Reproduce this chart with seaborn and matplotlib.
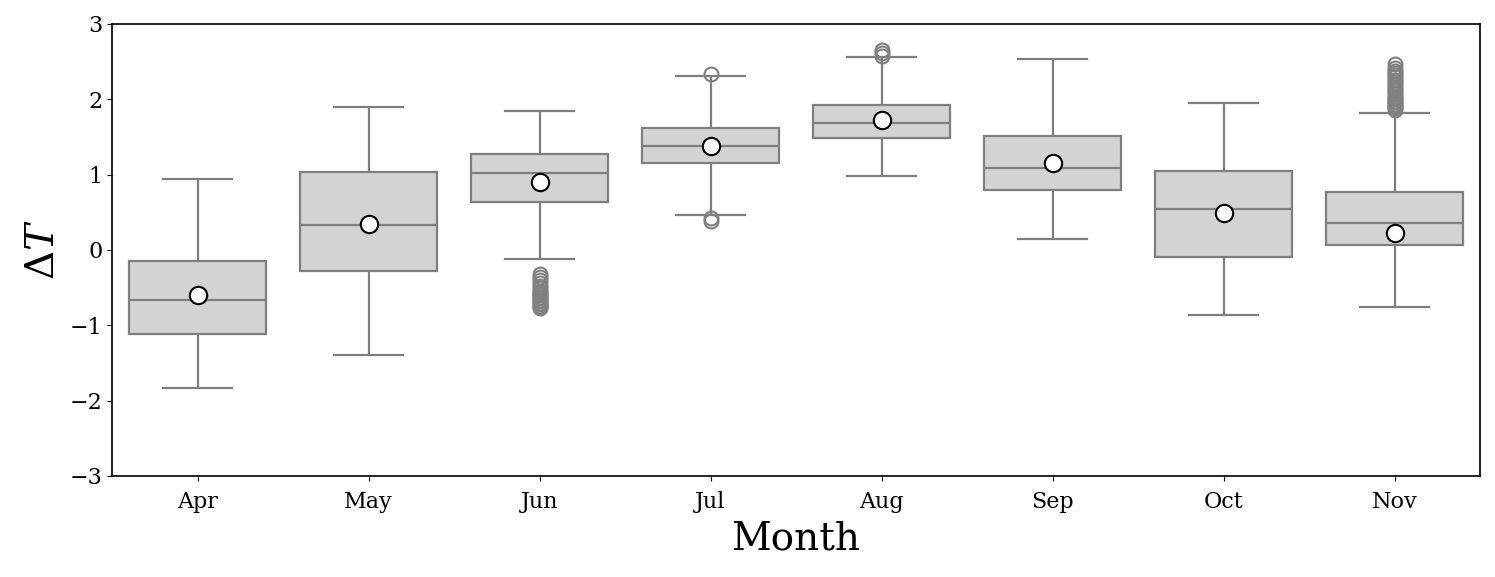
import numpy as np
import pandas as pd
import matplotlib
matplotlib.use("Agg")
import matplotlib.pyplot as plt
import seaborn as sns

# ---- values ----
months = ["Apr", "May", "Jun", "Jul", "Aug", "Sep", "Oct", "Nov"]
whis_low = [-1.83, -1.40, -0.12, 0.46, 0.98, 0.14, -0.86, -0.76]
q1 = [-1.11, -0.28, 0.64, 1.15, 1.49, 0.79, -0.09, 0.06]
median = [-0.67, 0.33, 1.02, 1.38, 1.69, 1.09, 0.55, 0.36]
q3 = [-0.14, 1.04, 1.28, 1.62, 1.92, 1.51, 1.05, 0.77]
whis_high = [0.94, 1.90, 1.85, 2.31, 2.56, 2.53, 1.95, 1.82]
means = [-0.60, 0.34, 0.90, 1.38, 1.73, 1.16, 0.49, 0.23]
fliers = {
    "Apr": [],
    "May": [],
    "Jun": [-0.32, -0.36, -0.40, -0.44, -0.48, -0.51, -0.54, -0.56, -0.58,
            -0.60, -0.62, -0.64, -0.66, -0.68, -0.70, -0.72, -0.74, -0.76, -0.77],
    "Jul": [2.34, 0.42, 0.39],
    "Aug": [2.58, 2.62, 2.65],
    "Sep": [],
    "Oct": [],
    "Nov": [2.47, 2.42, 2.38, 2.35, 2.32, 2.29, 2.26, 2.23, 2.20, 2.17, 2.14,
            2.11, 2.08, 2.05, 2.02, 2.00, 1.98, 1.96, 1.94, 1.92, 1.90, 1.88, 1.86],
}

# ---- build a sample per month whose box statistics equal the values above ----
K = 200
rows = []
for i, m in enumerate(months):
    vals = ([whis_low[i]] + [q1[i]] * K + [median[i]] * K + [q3[i]] * K
            + [whis_high[i]] + fliers[m])
    rows += [(m, v) for v in vals]
df = pd.DataFrame(rows, columns=["Month", "dT"])
df_mean = pd.DataFrame({"Month": months, "dT": means})

plt.rcParams["font.family"] = ["DejaVu Serif"]
plt.rcParams["mathtext.fontset"] = "dejavuserif"

fig, ax = plt.subplots(figsize=(14.95, 5.77), dpi=100)
fig.subplots_adjust(left=112 / 1495, right=1480 / 1495,
                    top=1 - 24 / 577, bottom=1 - 476 / 577)

sns.boxplot(data=df, x="Month", y="dT", order=months, ax=ax,
            color="lightgray", saturation=1, linecolor="gray", linewidth=1.6,
            width=0.8,
            flierprops=dict(marker="o", markersize=10, markerfacecolor="none",
                            markeredgecolor="gray", markeredgewidth=1.5))
sns.stripplot(data=df_mean, x="Month", y="dT", order=months, ax=ax,
              jitter=False, color="white", edgecolor="black", linewidth=1.5,
              size=12.5, zorder=10)

ax.set_ylim(-3, 3)
ax.set_yticks([-3, -2, -1, 0, 1, 2, 3])
ax.set_xlabel("Month", fontsize=28, labelpad=6)
ax.set_ylabel(r"$\Delta T$", fontsize=29, labelpad=5)
ax.tick_params(labelsize=16)
ax.tick_params(axis="x", pad=7)
for s in ax.spines.values():
    s.set_color("black")
    s.set_linewidth(1.2)

fig.savefig("out.png", dpi=100)
